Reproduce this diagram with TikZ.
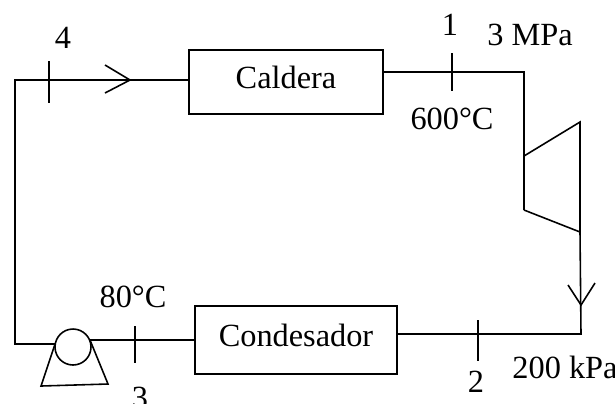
\documentclass[tikz,border=0pt]{standalone}
\usepackage{fontspec}
\setmainfont{Liberation Serif}
\usetikzlibrary{positioning}

\begin{document}
\begin{tikzpicture}[x=1cm,y=-1cm,line width=0.45pt,font=\fontsize{9.2}{11}\selectfont]
	\tikzstyle{equipo} = [rectangle,draw=black,inner sep=0pt,text depth=0.09cm]
	\tikzstyle{etiqueta} = [inner sep=0pt]
	\tikzstyle{linea} = [-]
	\useasboundingbox (0,0) rectangle (6.15,4.03);
	\node[equipo,minimum width=1.94cm,minimum height=0.64cm] (caldera) at (2.86,0.82) {Caldera};
	\node[equipo,minimum width=2.02cm,minimum height=0.68cm] (condesador) at (2.96,3.40) {Condesador};
	\node[circle,draw=black,minimum size=0.36cm,inner sep=0pt] (bomba) at (0.73,3.47) {};
	% esquinas y marcas
	\coordinate (e1) at (0.15,0.80);
	\coordinate (e2) at (0.15,3.44);
	\coordinate (e3) at (5.24,0.72);
	\coordinate (e4) at (5.81,3.34);
	\coordinate (t1) at (5.24,1.56);
	\coordinate (t2) at (5.80,1.22);
	\coordinate (t3) at (5.80,2.32);
	\coordinate (t4) at (5.24,2.10);
	\coordinate (p1) at (0.55,3.44);
	\coordinate (p2) at (0.41,3.86);
	\coordinate (p3) at (1.08,3.84);
	\coordinate (p4) at (0.90,3.40);
	\coordinate (m1a) at (4.52,0.53);
	\coordinate (m1b) at (4.52,0.91);
	\coordinate (m2a) at (4.78,3.20);
	\coordinate (m2b) at (4.78,3.61);
	\coordinate (m3a) at (1.35,3.26);
	\coordinate (m3b) at (1.35,3.63);
	\coordinate (m4a) at (0.49,0.61);
	\coordinate (m4b) at (0.49,1.03);
	\coordinate (f1) at (1.30,0.80);
	\coordinate (f2) at (1.05,0.65);
	\coordinate (f3) at (1.05,0.93);
	\coordinate (f4) at (5.81,3.05);
	\coordinate (f5) at (5.68,2.85);
	\coordinate (f6) at (5.95,2.83);
	% circuito
	\draw[linea] (caldera.west |- e1)--(e1)--(e2)--(p1);
	\draw[linea] (caldera.east |- e3)--(e3)--(t4);
	\draw[linea] (t1)--(t2)--(t3)--(t4);
	\draw[linea] (t3)--(e4)--(condesador.east |- e4);
	\draw[linea] (condesador.west)--(p4);
	\draw[linea] (p1)--(p2)--(p3)--(p4);
	% marcas
	\draw[linea] (m1a)--(m1b);
	\draw[linea] (m2a)--(m2b);
	\draw[linea] (m3a)--(m3b);
	\draw[linea] (m4a)--(m4b);
	% flechas
	\draw[linea] (f2)--(f1)--(f3);
	\draw[linea] (f5)--(f4)--(f6);
	% textos
	\node[etiqueta] (n4) at (0.63,0.38) {4};
	\node[etiqueta] (n1) at (4.50,0.25) {1};
	\node[etiqueta] (n3) at (1.40,3.98) {3};
	\node[etiqueta] (n2) at (4.76,3.82) {2};
	\node[etiqueta] (mpa) at (5.30,0.35) {3 MPa};
	\node[etiqueta] (tuno) at (4.52,1.19) {600°C};
	\node[etiqueta] (ttres) at (1.33,2.97) {80°C};
	\node[etiqueta] (kpa) at (5.65,3.67) {200 kPa};
\end{tikzpicture}
\end{document}
